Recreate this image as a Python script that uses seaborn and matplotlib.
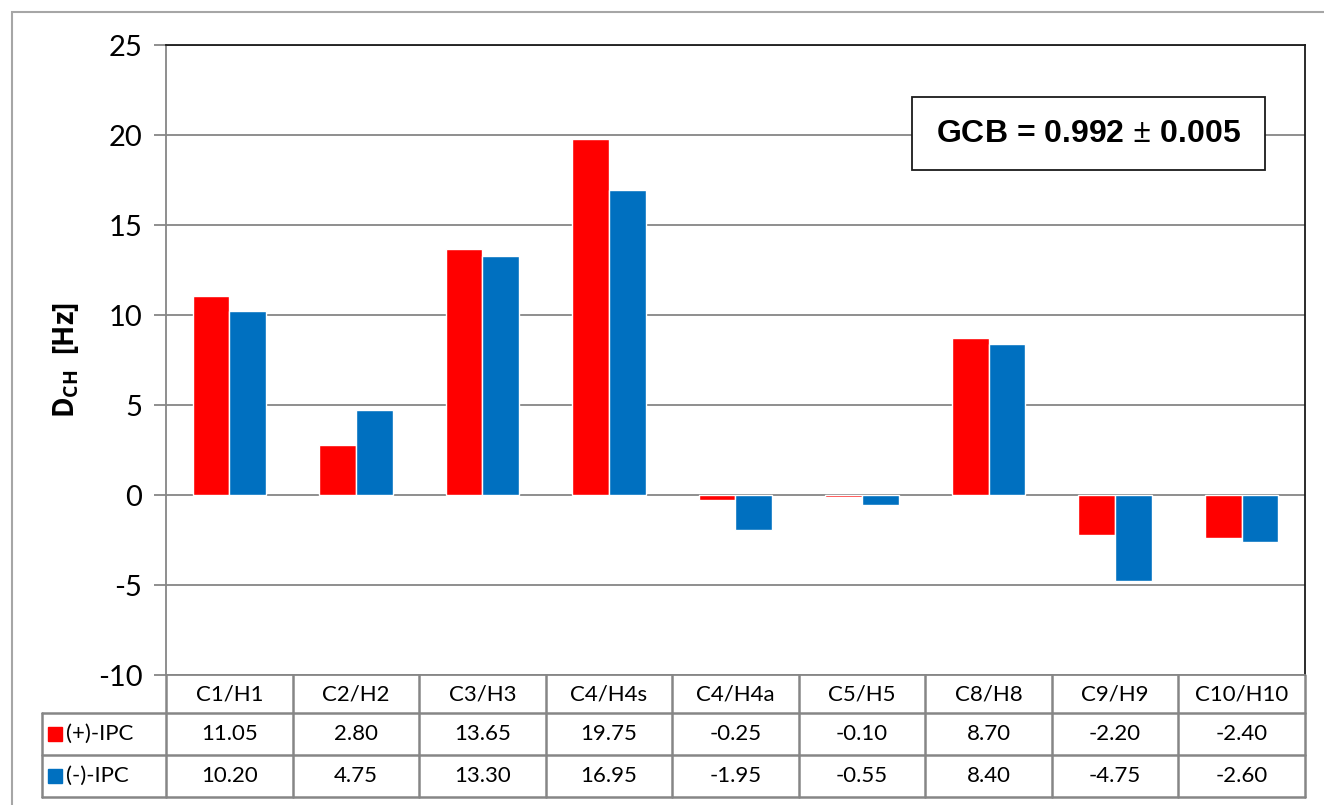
import numpy as np
import pandas as pd
import matplotlib.pyplot as plt
import matplotlib.transforms as mtransforms
from matplotlib.patches import Rectangle
import seaborn as sns

# chart data
bonds = ["C1/H1", "C2/H2", "C3/H3", "C4/H4s", "C4/H4a", "C5/H5", "C8/H8", "C9/H9", "C10/H10"]
plus_ipc = [11.05, 2.80, 13.65, 19.75, -0.25, -0.10, 8.70, -2.20, -2.40]
minus_ipc = [10.20, 4.75, 13.30, 16.95, -1.95, -0.55, 8.40, -4.75, -2.60]
series_names = ["(+)-IPC", "(-)-IPC"]
series_colors = ["#FF0000", "#0070C0"]
y_ticks = [-10, -5, 0, 5, 10, 15, 20, 25]
gcb_text = "GCB = 0.992 $\\pm$ 0.005"

sns.set_theme(style="white")
plt.rcParams['font.family'] = ['Lato', 'DejaVu Sans']
plt.rcParams['text.color'] = 'black'
plt.rcParams['ytick.labelcolor'] = 'black'
plt.rcParams['axes.labelcolor'] = 'black'
plt.rcParams['mathtext.fontset'] = 'custom'
plt.rcParams['mathtext.rm'] = 'Open Sans'
plt.rcParams['mathtext.bf'] = 'Open Sans:bold'

GRID = "#868686"
W, H = 1324, 805

df = pd.DataFrame({
    "bond": bonds * 2,
    "D": plus_ipc + minus_ipc,
    "sample": [series_names[0]] * len(bonds) + [series_names[1]] * len(bonds),
})

fig = plt.figure(figsize=(W / 100, H / 100), dpi=100)
ax = fig.add_axes([166 / W, 1 - 675 / H, (1305 - 166) / W, (675 - 45) / H])

# gridlines under the bars
ax.set_axisbelow(True)
ax.yaxis.grid(True, color=GRID, lw=1.3)

sns.barplot(data=df, x="bond", y="D", hue="sample", hue_order=series_names,
            palette=series_colors, width=0.58, saturation=1, errorbar=None,
            legend=False, ax=ax)

ax.set_ylim(-10, 25)
ax.set_xlim(-0.5, len(bonds) - 0.5)
ax.set_yticks(y_ticks)
ax.set_yticklabels([str(t) for t in y_ticks], fontsize=21)
ax.tick_params(axis='y', length=9, width=1.3, color=GRID, pad=8, left=True)
ax.tick_params(axis='x', length=0, labelbottom=False)
ax.set_xlabel("")
ax.set_ylabel(r"$\mathbf{D}_{\mathbf{CH}}$  [Hz]", fontsize=20, fontweight='bold',
              family='Open Sans', va='center')
ax.yaxis.set_label_coords((66 - 166) / 1139, 0.5)

for side in ["left", "bottom"]:
    ax.spines[side].set_color(GRID)
    ax.spines[side].set_linewidth(1.3)
for side in ["top", "right"]:
    ax.spines[side].set_color("#1a1a1a")
    ax.spines[side].set_linewidth(1.3)

# GCB annotation box
ax.add_patch(Rectangle(((912 - 166) / 1139, (675 - 170) / 630), 353 / 1139, 73 / 630,
                       transform=ax.transAxes, facecolor="white", edgecolor="#1a1a1a",
                       lw=1.3, zorder=5))
ax.text((1088 - 166) / 1139, (675 - 134) / 630, gcb_text, transform=ax.transAxes,
        ha='center', va='center', fontsize=23, fontweight='bold',
        family='Liberation Sans', zorder=6)

# data table below the axes (x in category units, y in axes fraction)
trans = mtransforms.blended_transform_factory(ax.transData, ax.transAxes)
n = len(bonds)
row_h = 42 / 630
head_h = 38 / 630
label_left = -0.5 - 124 / (1139 / n)
y_head = -head_h
y_r1 = y_head - row_h
y_r2 = y_r1 - row_h
line_kw = dict(color=GRID, lw=1.8, transform=trans, clip_on=False)
TS = 16

# horizontal lines
ax.plot([label_left, n - 0.5], [y_head, y_head], **line_kw)
ax.plot([label_left, n - 0.5], [y_r1, y_r1], **line_kw)
ax.plot([label_left, n - 0.5], [y_r2, y_r2], **line_kw)
# vertical lines
for i in range(n + 1):
    ax.plot([i - 0.5, i - 0.5], [0, y_r2], **line_kw)
ax.plot([label_left, label_left], [y_head, y_r2], **line_kw)

for i, b in enumerate(bonds):
    ax.text(i, y_head / 2, b, transform=trans, ha='center', va='center', fontsize=TS)
    ax.text(i, (y_head + y_r1) / 2, f"{plus_ipc[i]:.2f}", transform=trans,
            ha='center', va='center', fontsize=TS)
    ax.text(i, (y_r1 + y_r2) / 2, f"{minus_ipc[i]:.2f}", transform=trans,
            ha='center', va='center', fontsize=TS)

for name, color, y0, y1 in zip(series_names, series_colors, [y_head, y_r1], [y_r1, y_r2]):
    ym = (y0 + y1) / 2
    ax.plot([label_left + 0.1], [ym], marker='s', markersize=10, color=color,
            transform=trans, clip_on=False, ls='none')
    ax.text(label_left + 0.19, ym, name, transform=trans, ha='left', va='center', fontsize=TS)

# outer chart frame
fig.add_artist(Rectangle((12 / W, -0.05), 1.0, 1 - 12 / H + 0.05, transform=fig.transFigure,
                         fill=False, edgecolor="#a6a6a6", lw=1.5))

fig.savefig("out.png", dpi=100)
